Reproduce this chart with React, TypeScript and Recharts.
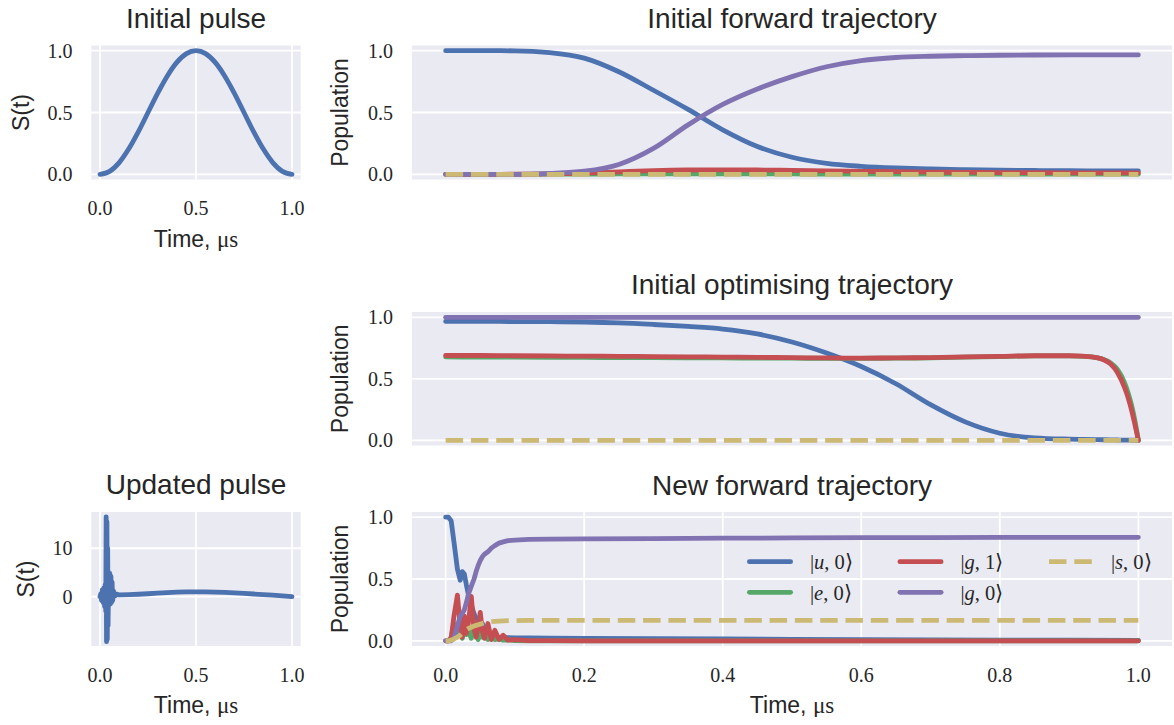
import React from 'react'
import { LineChart, Line, XAxis, YAxis, CartesianGrid, Label, Legend } from 'recharts'

const SANS = '"Liberation Sans", Arial, Helvetica, sans-serif'
const SERIF = '"Liberation Serif", "Times New Roman", serif'
const INK = '#262626'
const BG = '#EAEAF2'
const LW = 4.8
const DASH = '17.5 7.8'

// ---- data ----

// Initial pulse
const PULSE_T = [0, 0.05, 0.1, 0.15, 0.2, 0.25, 0.3, 0.35, 0.4, 0.45, 0.5, 0.55, 0.6, 0.65, 0.7, 0.75, 0.8, 0.85, 0.9, 0.95, 1.0]
const PULSE_S = [0, 0.024, 0.095, 0.206, 0.345, 0.5, 0.655, 0.794, 0.905, 0.976, 1.0, 0.976, 0.905, 0.794, 0.655, 0.5, 0.345, 0.206, 0.095, 0.024, 0]

// Updated pulse
const UPD_T = [0, 0.004, 0.008, 0.012, 0.016, 0.02, 0.024, 0.027, 0.03, 0.032, 0.034, 0.036, 0.038, 0.04, 0.042, 0.045, 0.048, 0.051, 0.054, 0.057, 0.06, 0.063, 0.066, 0.07, 0.08, 0.09, 0.1, 0.15, 0.2, 0.25, 0.3, 0.35, 0.4, 0.45, 0.5, 0.55, 0.6, 0.65, 0.7, 0.75, 0.8, 0.85, 0.9, 0.95, 1.0]
const UPD_S = [0, 0.6, -0.8, 1.4, -1.2, 1.8, -2.0, 2.5, -3.0, 16.5, -9.3, 15.5, -8.8, 10.0, -6.0, 5.0, -1.7, 4.8, -1.5, 4.2, -1.2, 3.0, -0.8, 1.2, 0.2, 0.5, 0.35, 0.42, 0.5, 0.6, 0.72, 0.83, 0.92, 0.98, 1.0, 0.99, 0.95, 0.88, 0.78, 0.67, 0.55, 0.42, 0.3, 0.15, 0]

// Initial forward trajectory
const IF_T = [0, 0.05, 0.1, 0.15, 0.2, 0.25, 0.3, 0.35, 0.4, 0.45, 0.5, 0.55, 0.6, 0.65, 0.7, 0.75, 0.8, 0.85, 0.9, 0.95, 1.0]
const IF_U0 = [1.0, 1.0, 0.999, 0.985, 0.94, 0.83, 0.68, 0.525, 0.36, 0.225, 0.138, 0.088, 0.065, 0.052, 0.044, 0.038, 0.034, 0.031, 0.029, 0.028, 0.027]
const IF_E0 = [0, 0, 0, 0.001, 0.002, 0.003, 0.004, 0.004, 0.004, 0.003, 0.003, 0.002, 0.002, 0.002, 0.001, 0.001, 0.001, 0.001, 0.001, 0.001, 0.001]
const IF_G1 = [0, 0, 0.001, 0.004, 0.01, 0.02, 0.03, 0.035, 0.036, 0.035, 0.032, 0.028, 0.024, 0.021, 0.018, 0.016, 0.014, 0.013, 0.012, 0.011, 0.011]
const IF_G0 = [0, 0, 0, 0.007, 0.025, 0.08, 0.21, 0.4, 0.565, 0.69, 0.79, 0.87, 0.92, 0.945, 0.955, 0.96, 0.963, 0.965, 0.966, 0.966, 0.966]
const IF_S0 = [0, 0, 0, 0, 0, 0, 0, 0, 0, 0, 0, 0, 0, 0, 0, 0, 0, 0, 0, 0, 0]

// Initial optimising trajectory
const IO_T = [0, 0.05, 0.1, 0.15, 0.2, 0.25, 0.3, 0.35, 0.4, 0.45, 0.5, 0.55, 0.6, 0.65, 0.7, 0.75, 0.8, 0.85, 0.9, 0.92, 0.94, 0.95, 0.96, 0.97, 0.98, 0.985, 0.99, 0.995, 1.0]
const IO_U0 = [0.967, 0.967, 0.966, 0.965, 0.962, 0.955, 0.942, 0.926, 0.905, 0.865, 0.8, 0.71, 0.6, 0.46, 0.29, 0.15, 0.058, 0.02, 0.01, 0.008, 0.006, 0.005, 0.004, 0.003, 0.002, 0.002, 0.001, 0.001, 0]
const IO_E0 = [0.678, 0.677, 0.676, 0.675, 0.674, 0.673, 0.672, 0.671, 0.67, 0.669, 0.668, 0.667, 0.667, 0.668, 0.671, 0.676, 0.681, 0.686, 0.686, 0.683, 0.672, 0.658, 0.63, 0.575, 0.47, 0.39, 0.29, 0.16, 0]
const IO_G1 = [0.69, 0.69, 0.688, 0.686, 0.685, 0.683, 0.681, 0.679, 0.677, 0.675, 0.672, 0.67, 0.669, 0.67, 0.673, 0.678, 0.683, 0.688, 0.688, 0.684, 0.672, 0.655, 0.62, 0.55, 0.43, 0.35, 0.25, 0.13, 0]
const IO_G0 = [1, 1, 1, 1, 1, 1, 1, 1, 1, 1, 1, 1, 1, 1, 1, 1, 1, 1, 1, 1, 1, 1, 1, 1, 1, 1, 1, 1, 1]
const IO_S0 = [0, 0, 0, 0, 0, 0, 0, 0, 0, 0, 0, 0, 0, 0, 0, 0, 0, 0, 0, 0, 0, 0, 0, 0, 0, 0, 0, 0, 0]

// New forward trajectory
const NF_T = [0, 0.004, 0.008, 0.012, 0.017, 0.021, 0.024, 0.027, 0.03, 0.033, 0.037, 0.041, 0.044, 0.047, 0.05, 0.053, 0.056, 0.061, 0.066, 0.071, 0.077, 0.083, 0.09, 0.1, 0.12, 0.15, 0.2, 0.3, 0.4, 0.5, 0.6, 0.7, 0.8, 0.9, 1.0]
const NF_U0 = [1.0, 1.0, 0.97, 0.8, 0.58, 0.49, 0.56, 0.54, 0.45, 0.37, 0.29, 0.22, 0.18, 0.16, 0.15, 0.14, 0.1, 0.06, 0.04, 0.03, 0.026, 0.025, 0.025, 0.024, 0.023, 0.022, 0.02, 0.018, 0.015, 0.012, 0.01, 0.008, 0.006, 0.005, 0.004]
const NF_E0 = [0, 0, 0.03, 0.14, 0.05, 0.1, 0.02, 0.15, 0.05, 0.08, 0.02, 0.16, 0.05, 0.01, 0.1, 0.03, 0.07, 0.01, 0.04, 0.01, 0.02, 0.005, 0.008, 0.002, 0, 0, 0, 0, 0, 0, 0, 0, 0, 0, 0]
const NF_G1 = [0, 0, 0.02, 0.2, 0.37, 0.12, 0.03, 0.2, 0.06, 0.15, 0.36, 0.1, 0.03, 0.12, 0.23, 0.08, 0.02, 0.14, 0.01, 0.085, 0.01, 0.045, 0.005, 0.01, 0.002, 0.001, 0, 0, 0, 0, 0, 0, 0, 0, 0]
const NF_G0 = [0, 0, 0, 0.02, 0.12, 0.2, 0.22, 0.25, 0.31, 0.38, 0.44, 0.5, 0.56, 0.61, 0.65, 0.68, 0.7, 0.72, 0.75, 0.77, 0.79, 0.8, 0.81, 0.815, 0.82, 0.822, 0.824, 0.827, 0.83, 0.832, 0.834, 0.835, 0.836, 0.837, 0.837]
const NF_S0 = [0, 0, 0.005, 0.015, 0.03, 0.045, 0.06, 0.075, 0.09, 0.1, 0.11, 0.12, 0.125, 0.13, 0.135, 0.14, 0.145, 0.15, 0.155, 0.158, 0.16, 0.162, 0.163, 0.164, 0.165, 0.165, 0.165, 0.165, 0.165, 0.165, 0.165, 0.165, 0.165, 0.165, 0.165]

const X_TICKS_PULSE = [0, 0.5, 1.0]
const X_TICKS_TRAJ = [0, 0.2, 0.4, 0.6, 0.8, 1.0]
const Y_TICKS_POP = [0, 0.5, 1.0]
const Y_TICKS_UPD = [0, 10]

// plot order = legend order (column-wise, 3 columns)
const SERIES = [
  { key: 'u0', letter: 'u', n: '0', color: '#4C72B0', dashed: false },
  { key: 'e0', letter: 'e', n: '0', color: '#55A868', dashed: false },
  { key: 'g1', letter: 'g', n: '1', color: '#C44E52', dashed: false },
  { key: 'g0', letter: 'g', n: '0', color: '#8172B2', dashed: false },
  { key: 's0', letter: 's', n: '0', color: '#CCB974', dashed: true },
]

function toRows(t: number[], cols: Record<string, number[]>) {
  return t.map((tt, i) => {
    const r: Record<string, number> = { t: tt }
    for (const k of Object.keys(cols)) r[k] = cols[k][i]
    return r
  })
}

const pulseRows = toRows(PULSE_T, { s: PULSE_S })
const updRows = toRows(UPD_T, { s: UPD_S })
const ifRows = toRows(IF_T, { u0: IF_U0, e0: IF_E0, g1: IF_G1, g0: IF_G0, s0: IF_S0 })
const ioRows = toRows(IO_T, { u0: IO_U0, e0: IO_E0, g1: IO_G1, g0: IO_G0, s0: IO_S0 })
const nfRows = toRows(NF_T, { u0: NF_U0, e0: NF_E0, g1: NF_G1, g0: NF_G0, s0: NF_S0 })

const tickStyle = { fontFamily: SERIF, fontSize: 20, fill: INK }
const fmt1 = (v: number) => v.toFixed(1)

const yTitle = (x: number, text: string) => (p: any) => {
  const vb = p.viewBox || { y: 0, height: 0 }
  const cy = vb.y + vb.height / 2
  return (
    <text x={x} y={cy} dy="0.36em" transform={`rotate(-90 ${x} ${cy})`} textAnchor="middle"
      fontFamily={SANS} fontSize={23} fill={INK}>
      {text}
    </text>
  )
}

const xTitle = (p: any) => {
  const vb = p.viewBox || { x: 0, y: 0, width: 0 }
  return (
    <text x={vb.x + vb.width / 2} y={vb.y + 66} textAnchor="middle" fontSize={23} fill={INK}>
      <tspan fontFamily={SANS}>{'Time, '}</tspan>
      <tspan fontFamily={SERIF}>μs</tspan>
    </text>
  )
}

function LegendBox() {
  return (
    <svg width={440} height={65} style={{ display: 'block', overflow: 'visible' }}>
      {SERIES.map((s, i) => {
        const col = Math.floor(i / 2)
        const row = i % 2
        const x0 = 7 + col * 150.5
        const y = 16.7 + row * 30.6
        return (
          <g key={s.key}>
            {s.dashed ? (
              <line x1={x0 + 1} y1={y} x2={x0 + 46} y2={y} stroke={s.color} strokeWidth={LW} strokeDasharray={DASH} />
            ) : (
              <line x1={x0 + 2.4} y1={y} x2={x0 + 43.6} y2={y} stroke={s.color} strokeWidth={LW} strokeLinecap="round" />
            )}
            <text x={x0 + 63} y={y + 7.5} fontFamily={SERIF} fontSize={20.5} fill={INK}>
              <tspan>|</tspan>
              <tspan fontStyle="italic">{s.letter}</tspan>
              <tspan>{', ' + s.n + '⟩'}</tspan>
            </text>
          </g>
        )
      })}
    </svg>
  )
}

function seriesLines(smooth: boolean) {
  return SERIES.map((s) => (
    <Line
      key={s.key}
      dataKey={s.key}
      type={smooth ? 'monotone' : 'linear'}
      stroke={s.color}
      strokeWidth={LW}
      strokeDasharray={s.dashed ? DASH : undefined}
      strokeLinecap={s.dashed ? 'butt' : 'round'}
      strokeLinejoin="round"
      dot={false}
      activeDot={false}
      isAnimationActive={false}
    />
  ))
}

interface TrajProps {
  top: number
  plotTop: number
  plotBottom: number
  rows: Record<string, number>[]
  showX: boolean
  smooth: boolean
  legend?: boolean
}

// wide panels: chart box starts at x=320, plot area 411..1173
function Trajectory({ top, plotTop, plotBottom, rows, showX, smooth, legend }: TrajProps) {
  const xh = showX ? 70 : 14
  return (
    <div style={{ position: 'absolute', left: 320, top }}>
      <LineChart width={853} height={plotBottom + xh} data={rows}
        margin={{ top: plotTop, right: 0, bottom: 0, left: 0 }}>
        <CartesianGrid fill={BG} stroke="#FFFFFF" strokeWidth={1.8} />
        <XAxis dataKey="t" type="number" domain={[-0.05, 1.05]} ticks={X_TICKS_TRAJ} allowDataOverflow
          height={xh} tick={showX ? tickStyle : false} tickFormatter={fmt1} tickLine={false} axisLine={false}
          tickSize={0} tickMargin={20.5} interval={0}>
          {showX && <Label content={xTitle} />}
        </XAxis>
        <YAxis type="number" domain={[-0.05, 1.05]} ticks={Y_TICKS_POP} allowDataOverflow width={91}
          tick={tickStyle} tickFormatter={fmt1} tickLine={false} axisLine={false} tickSize={0} tickMargin={18}
          interval={0}>
          <Label content={yTitle(20, 'Population')} />
        </YAxis>
        {seriesLines(smooth)}
        {legend && (
          <Legend layout="horizontal" verticalAlign="middle" align="center"
            wrapperStyle={{ left: 420, top: 85, width: 440, height: 65 }}
            content={() => <LegendBox />} />
        )}
      </LineChart>
    </div>
  )
}

interface PulseProps {
  top: number
  plotTop: number
  plotBottom: number
  rows: Record<string, number>[]
  domain: [number, number]
  yTicks: number[]
  yFmt: (v: number) => string
  labelX: number
  smooth: boolean
}

// narrow panels: plot area 90.4..301.6, extra room on the right for the "1.0" tick
function Pulse({ top, plotTop, plotBottom, rows, domain, yTicks, yFmt, labelX, smooth }: PulseProps) {
  return (
    <div style={{ position: 'absolute', left: 0, top }}>
      <LineChart width={320} height={plotBottom + 70} data={rows}
        margin={{ top: plotTop, right: 18.4, bottom: 0, left: 0 }}>
        <CartesianGrid fill={BG} stroke="#FFFFFF" strokeWidth={1.8} />
        <XAxis dataKey="t" type="number" domain={[-0.05, 1.05]} ticks={X_TICKS_PULSE} allowDataOverflow
          height={70} tick={tickStyle} tickFormatter={fmt1} tickLine={false} axisLine={false}
          tickSize={0} tickMargin={20.5} interval={0}>
          <Label content={xTitle} />
        </XAxis>
        <YAxis type="number" domain={domain} ticks={yTicks} allowDataOverflow width={90.4}
          tick={tickStyle} tickFormatter={yFmt} tickLine={false} axisLine={false} tickSize={0} tickMargin={18}
          interval={0}>
          <Label content={yTitle(labelX, 'S(t)')} />
        </YAxis>
        <Line dataKey="s" type={smooth ? 'monotone' : 'linear'} stroke="#4C72B0" strokeWidth={LW}
          strokeLinecap="round" strokeLinejoin="round" dot={false} activeDot={false} isAnimationActive={false} />
      </LineChart>
    </div>
  )
}

function Title({ cx, top, text }: { cx: number; top: number; text: string }) {
  return (
    <div style={{
      position: 'absolute', left: cx - 250, width: 500, top, textAlign: 'center',
      fontFamily: SANS, fontSize: 28, lineHeight: '28px', color: INK, whiteSpace: 'nowrap',
    }}>
      {text}
    </div>
  )
}

export default function App() {
  return (
    <div style={{ position: 'absolute', left: 0, top: 0, width: 1174, height: 725, background: '#fff', overflow: 'hidden' }}>
      <Title cx={196} top={5} text="Initial pulse" />
      <Title cx={792} top={5} text="Initial forward trajectory" />
      <Title cx={792} top={271} text="Initial optimising trajectory" />
      <Title cx={196} top={471} text="Updated pulse" />
      <Title cx={792} top={472} text="New forward trajectory" />

      <Pulse top={0} plotTop={44.5} plotBottom={180.5} rows={pulseRows} domain={[-0.05, 1.05]}
        yTicks={Y_TICKS_POP} yFmt={fmt1} labelX={21} smooth />
      <Pulse top={460} plotTop={51} plotBottom={187} rows={updRows} domain={[-10.4, 17.7]}
        yTicks={Y_TICKS_UPD} yFmt={(v) => String(v)} labelX={26} smooth={false} />

      <Trajectory top={0} plotTop={44.5} plotBottom={180.5} rows={ifRows} showX={false} smooth />
      <Trajectory top={260} plotTop={51.2} plotBottom={186.5} rows={ioRows} showX={false} smooth />
      <Trajectory top={460} plotTop={51} plotBottom={187} rows={nfRows} showX smooth={false} legend />
    </div>
  )
}
